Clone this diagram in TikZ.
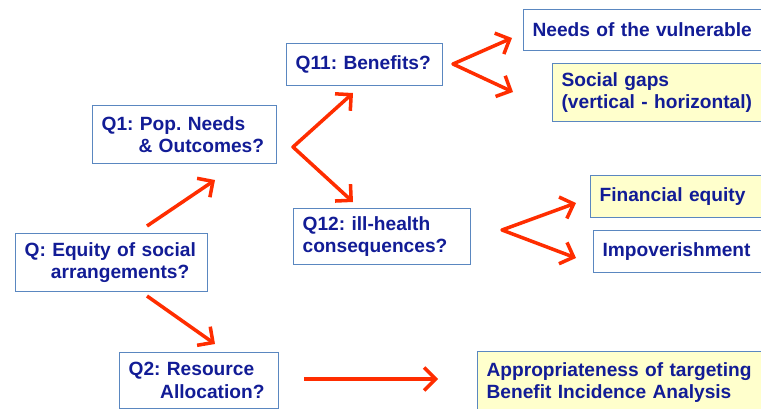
\documentclass[tikz,border=0pt]{standalone}
\usepackage{fontspec}
\setmainfont{Liberation Sans}
\usetikzlibrary{arrows.meta}

\definecolor{qtext}{RGB}{18,28,150}
\definecolor{qline}{RGB}{90,135,192}
\definecolor{qyellow}{RGB}{255,255,204}
\definecolor{qarrow}{RGB}{255,45,0}

% bold box text, no hyphenation
\newcommand\qfont{\bfseries\fontsize{10.9}{13}\selectfont\frenchspacing\hyphenpenalty=10000\relax}

\begin{document}
\begin{tikzpicture}[x=0.02cm, y=-0.02cm,
	qbox/.style={draw=qline, line width=0.7pt, fill=white, anchor=north west,
		inner xsep=0.18cm, inner ysep=0pt, align=left, text width=#1,
		text=qtext, font=\qfont},
	ybox/.style={qbox=#1, fill=qyellow},
	barb/.tip={Straight Barb[length=6.5pt, width=13pt, line width=2pt]},
	arr/.style={draw=qarrow, line width=2pt, line join=round, -barb},
	twoarr/.style={arr, barb-barb}]
	\useasboundingbox (0,0) rectangle (761,409);

	% question boxes
	\node[qbox=3.48cm, minimum height=1.16cm] (q) at (15,233)
		{Q: Equity of social\\\hspace*{15pt}arrangements?};
	\node[qbox=3.32cm, minimum height=1.16cm] (q1) at (92,105)
		{Q1: Pop. Needs\\\hspace*{21pt}\& Outcomes?};
	\node[qbox=2.82cm, minimum height=1.12cm] (q2) at (119,352)
		{Q2: Resource\\\hspace*{18pt}Allocation?};
	\node[qbox=2.76cm, minimum height=0.84cm] (q11) at (286,43) {Q11: Benefits?};
	\node[qbox=3.18cm, minimum height=1.12cm] (q12) at (293,208)
		{Q12: ill-health\\consequences?};

	% answers
	\node[qbox=4.58cm, minimum height=0.82cm] (needs) at (523,9) {Needs of the vulnerable};
	\node[ybox=4.0cm, minimum height=1.16cm] (gaps) at (552,63)
		{Social gaps\\(vertical - horizontal)};
	\node[ybox=3.24cm, minimum height=0.84cm] (fin) at (590,175) {Financial equity};
	\node[qbox=3.18cm, minimum height=0.84cm] (imp) at (593,230) {Impoverishment};
	\node[ybox=5.5cm, minimum height=1.24cm] (app) at (477,351)
		{Appropriateness of targeting\\Benefit Incidence Analysis};

	% arrow ends
	\coordinate (qup) at (147,226);
	\coordinate (q1in) at (215,180);
	\coordinate (qdown) at (147,296);
	\coordinate (q2in) at (215,344);
	\coordinate (q1v) at (293,147);
	\coordinate (q11in) at (353,93);
	\coordinate (q12in) at (353,202);
	\coordinate (q11v) at (453,64);
	\coordinate (needsin) at (512,38);
	\coordinate (gapsin) at (513,92);
	\coordinate (q12v) at (502,230);
	\coordinate (finin) at (576,203);
	\coordinate (impin) at (576,258);
	\coordinate (q2out) at (304,379);
	\coordinate (appin) at (438,379);

	\draw[arr] (qup) -- (q1in);
	\draw[arr] (qdown) -- (q2in);
	\draw[twoarr] (q11in) -- (q1v) -- (q12in);
	\draw[twoarr] (needsin) -- (q11v) -- (gapsin);
	\draw[twoarr] (finin) -- (q12v) -- (impin);
	\draw[arr] (q2out) -- (appin);
\end{tikzpicture}
\end{document}
